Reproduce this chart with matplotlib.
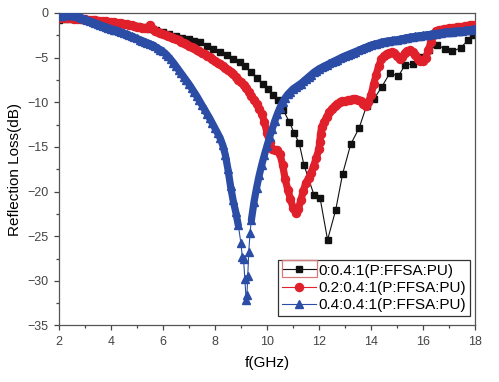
import matplotlib
matplotlib.use("Agg")
import matplotlib.pyplot as plt
import numpy as np
from matplotlib.patches import Rectangle
from matplotlib.ticker import MultipleLocator

plt.rcParams['font.family'] = ['Liberation Sans', 'DejaVu Sans']

# 0:0.4:1 (squares)
black_f = [2.0, 2.25, 2.5, 2.75, 3.0, 3.25, 3.5, 3.75, 4.0, 4.25, 4.5, 4.75, 5.0, 5.25,
           5.5, 5.75, 6.0, 6.25, 6.5, 6.75, 7.0, 7.2, 7.42, 7.68, 7.93, 8.19, 8.45, 8.7,
           8.96, 9.17, 9.38, 9.6, 9.83, 10.05, 10.24, 10.44, 10.63, 10.86, 11.04, 11.24,
           11.42, 11.81, 12.04, 12.33, 12.64, 12.91, 13.22, 13.54, 13.83, 14.12, 14.41,
           14.73, 15.05, 15.31, 15.63, 15.93, 16.23, 16.53, 16.85, 17.13, 17.45, 17.74, 17.93]
black_rl = [-0.75, -0.72, -0.7, -0.72, -0.75, -0.8, -0.86, -0.93, -1.0, -1.1, -1.2, -1.32,
            -1.45, -1.6, -1.75, -1.95, -2.15, -2.35, -2.55, -2.75, -2.95, -3.1, -3.3, -3.65,
            -4.0, -4.35, -4.7, -5.1, -5.5, -5.9, -6.6, -7.3, -7.9, -8.55, -9.2, -9.75,
            -10.9, -12.2, -13.4, -14.6, -17.0, -20.4, -20.7, -25.4, -22.1, -18.0, -14.7,
            -12.9, -10.4, -9.6, -8.3, -6.7, -7.1, -5.8, -5.7, -4.9, -4.2, -3.6, -4.0,
            -4.3, -3.9, -3.0, -2.5]

# 0.2:0.4:1 (circles)
red_f = [2.0, 2.1, 2.2, 2.3, 2.4, 2.5, 2.6, 2.7, 2.8, 2.9, 3.0, 3.1, 3.2, 3.3, 3.4, 3.5,
         3.6, 3.7, 3.8, 3.9, 4.0, 4.1, 4.2, 4.3, 4.4, 4.5, 4.6, 4.7, 4.8, 4.9, 5.0, 5.1,
         5.2, 5.3, 5.4, 5.5, 5.6, 5.7, 5.8, 5.9, 6.0, 6.1, 6.2, 6.3, 6.4, 6.5, 6.6, 6.7,
         6.8, 6.9, 7.0, 7.1, 7.2, 7.3, 7.4, 7.5, 7.6, 7.7, 7.8, 7.9, 8.0, 8.1, 8.2, 8.3,
         8.4, 8.5, 8.6, 8.7, 8.8, 8.9, 9.0, 9.1, 9.2, 9.3, 9.4, 9.5, 9.6, 9.7, 9.8, 9.9,
         10.0, 10.1, 10.2, 10.3, 10.4, 10.5, 10.6, 10.7, 10.8, 10.9, 11.0, 11.1, 11.2,
         11.3, 11.4, 11.5, 11.6, 11.7, 11.8, 11.9, 12.0, 12.03, 12.06, 12.1, 12.2, 12.3,
         12.4, 12.5, 12.6, 12.7, 12.8, 12.9, 13.0, 13.1, 13.2, 13.3, 13.4, 13.5, 13.6,
         13.7, 13.8, 13.9, 14.0, 14.1, 14.2, 14.3, 14.4, 14.5, 14.6, 14.7, 14.8, 14.9,
         15.0, 15.1, 15.2, 15.3, 15.4, 15.5, 15.6, 15.7, 15.8, 15.9, 16.0, 16.1, 16.2,
         16.3, 16.4, 16.5, 16.6, 16.7, 16.8, 16.9, 17.0, 17.1, 17.2, 17.3, 17.4, 17.5,
         17.6, 17.7, 17.8, 17.9, 18.0]
red_rl = [-0.50, -0.52, -0.54, -0.56, -0.58, -0.60, -0.62, -0.64, -0.66, -0.68, -0.70,
          -0.73, -0.76, -0.79, -0.82, -0.85, -0.88, -0.91, -0.94, -0.97, -1.00, -1.04,
          -1.08, -1.12, -1.16, -1.22, -1.28, -1.34, -1.40, -1.46, -1.52, -1.58, -1.64,
          -1.72, -1.70, -1.30, -1.80, -1.98, -2.10, -2.22, -2.34, -2.46, -2.58, -2.70,
          -2.82, -2.95, -3.08, -3.21, -3.35, -3.50, -3.65, -3.80, -3.95, -4.10, -4.28,
          -4.45, -4.62, -4.80, -4.98, -5.16, -5.35, -5.55, -5.75, -5.95, -6.15, -6.38,
          -6.62, -6.88, -7.15, -7.45, -7.75, -8.10, -8.45, -8.85, -9.25, -9.70, -10.20,
          -10.70, -11.30, -12.20, -13.40, -14.50, -15.20, -15.40, -15.40, -15.80, -17.00,
          -18.60, -19.80, -20.80, -21.80, -22.40, -22.00, -21.00, -19.90, -19.00, -18.50,
          -17.90, -17.10, -16.20, -15.20, -14.40, -13.60, -12.80, -12.20, -11.60, -11.10,
          -10.70, -10.40, -10.15, -10.00, -9.90, -9.85, -9.80, -9.70, -9.65, -9.60, -9.70,
          -9.90, -10.20, -10.40, -10.00, -9.20, -8.00, -6.90, -5.90, -5.20, -4.80, -4.55,
          -4.45, -4.40, -4.50, -4.80, -5.10, -4.95, -4.50, -4.25, -4.20, -4.35, -4.70,
          -5.10, -5.40, -5.40, -5.00, -4.20, -3.30, -2.50, -2.05, -1.90, -1.85, -1.80,
          -1.76, -1.72, -1.68, -1.64, -1.60, -1.56, -1.52, -1.48, -1.44, -1.40, -1.36,
          -1.32]

# 0.4:0.4:1 (triangles)
blue_f = [2.0, 2.1, 2.2, 2.3, 2.4, 2.5, 2.6, 2.7, 2.8, 2.9, 3.0, 3.1, 3.2, 3.3, 3.4, 3.5,
          3.6, 3.7, 3.8, 3.9, 4.0, 4.1, 4.2, 4.3, 4.4, 4.5, 4.6, 4.7, 4.8, 4.9, 5.0, 5.1,
          5.2, 5.3, 5.4, 5.5, 5.6, 5.7, 5.8, 5.9, 6.0, 6.1, 6.2, 6.3, 6.4, 6.5, 6.6, 6.7,
          6.8, 6.9, 7.0, 7.1, 7.2, 7.3, 7.4, 7.5, 7.6, 7.7, 7.8, 7.9, 8.0, 8.1, 8.2, 8.3,
          8.4, 8.5, 8.6, 8.7, 8.8, 8.9, 9.0, 9.05, 9.1, 9.15, 9.2, 9.23, 9.26, 9.3, 9.35,
          9.4, 9.5, 9.6, 9.7, 9.8, 9.9, 10.0, 10.1, 10.2, 10.3, 10.4, 10.5, 10.6, 10.7,
          10.8, 10.9, 11.0, 11.1, 11.2, 11.3, 11.4, 11.5, 11.6, 11.7, 11.8, 11.9, 12.0,
          12.1, 12.2, 12.3, 12.4, 12.5, 12.6, 12.7, 12.8, 12.9, 13.0, 13.1, 13.2, 13.3,
          13.4, 13.5, 13.6, 13.7, 13.8, 13.9, 14.0, 14.1, 14.2, 14.3, 14.4, 14.5, 14.6,
          14.7, 14.8, 14.9, 15.0, 15.1, 15.2, 15.3, 15.4, 15.5, 15.6, 15.7, 15.8, 15.9,
          16.0, 16.1, 16.2, 16.3, 16.4, 16.5, 16.6, 16.7, 16.8, 16.9, 17.0, 17.1, 17.2,
          17.3, 17.4, 17.5, 17.6, 17.7, 17.8, 17.9, 18.0]
blue_rl = [-0.35, -0.30, -0.25, -0.22, -0.20, -0.22, -0.28, -0.36, -0.46, -0.58, -0.70,
           -0.81, -0.92, -1.03, -1.14, -1.25, -1.35, -1.45, -1.55, -1.65, -1.75, -1.85,
           -1.95, -2.05, -2.15, -2.25, -2.37, -2.49, -2.61, -2.73, -2.85, -2.97, -3.09,
           -3.21, -3.33, -3.45, -3.60, -3.75, -3.92, -4.10, -4.30, -4.55, -4.85, -5.20,
           -5.55, -5.95, -6.35, -6.75, -7.15, -7.55, -7.95, -8.40, -8.85, -9.30, -9.80,
           -10.30, -10.80, -11.30, -11.80, -12.35, -12.90, -13.45, -14.00, -14.80, -15.90,
           -17.50, -19.40, -21.00, -22.30, -23.80, -25.80, -27.30, -27.60, -29.80, -32.20,
           -31.60, -29.50, -26.80, -24.60, -23.20, -21.20, -19.60, -18.20, -17.00, -15.90,
           -14.90, -13.90, -13.00, -12.10, -11.30, -10.60, -10.00, -9.50, -9.10, -8.80,
           -8.50, -8.30, -8.10, -7.90, -7.65, -7.40, -7.15, -6.90, -6.65, -6.45, -6.25,
           -6.10, -5.95, -5.80, -5.65, -5.50, -5.36, -5.22, -5.08, -4.94, -4.80, -4.68,
           -4.56, -4.44, -4.32, -4.20, -4.08, -3.96, -3.84, -3.72, -3.60, -3.52, -3.44,
           -3.36, -3.28, -3.20, -3.16, -3.12, -3.08, -3.04, -3.00, -2.94, -2.88, -2.82,
           -2.76, -2.70, -2.66, -2.62, -2.58, -2.54, -2.50, -2.46, -2.42, -2.38, -2.34,
           -2.30, -2.26, -2.22, -2.18, -2.14, -2.10, -2.08, -2.06, -2.04, -2.02, -2.00,
           -1.96, -1.92, -1.88, -1.84, -1.80]

labels = ['0:0.4:1(P:FFSA:PU)', '0.2:0.4:1(P:FFSA:PU)', '0.4:0.4:1(P:FFSA:PU)']
c_black, c_red, c_blue = '#111111', '#e0202b', '#2c4da6'

fig = plt.figure(figsize=(4.99, 3.82), dpi=100)
ax = fig.add_axes([0.118, 0.148, 0.834, 0.818])

ax.plot(black_f, black_rl, color=c_black, marker='s', ms=4.3, lw=0.8, label=labels[0], zorder=2)
# dense measured points form a thick band: underlay + markers
ax.plot(red_f, red_rl, color=c_red, lw=5.2, solid_capstyle='round', zorder=3)
ax.plot(red_f, red_rl, color=c_red, marker='o', ms=5.8, lw=0.8, label=labels[1], zorder=3)
# no band at the very bottom of the blue dip: single points there
blue_band = np.where(np.array(blue_rl) > -24.5, blue_rl, np.nan)
ax.plot(blue_f, blue_band, color=c_blue, lw=5.2, solid_capstyle='round', zorder=4)
ax.plot(blue_f, blue_rl, color=c_blue, marker='^', ms=6.0, lw=0.8, label=labels[2], zorder=4)

ax.set_xlim(2, 18)
ax.set_ylim(-35, 0)
ax.xaxis.set_major_locator(MultipleLocator(2))
ax.xaxis.set_minor_locator(MultipleLocator(1))
ax.yaxis.set_major_locator(MultipleLocator(5))
ax.yaxis.set_minor_locator(MultipleLocator(2.5))
ax.tick_params(which='both', direction='out', top=False, right=False, colors='#444444',
               labelsize=9)
ax.tick_params(which='major', length=3.5, width=0.9, pad=4)
ax.tick_params(which='minor', length=2.2, width=0.9)
for s in ax.spines.values():
    s.set_color('#555555')
    s.set_linewidth(0.9)

ax.set_xlabel('f(GHz)', fontsize=11, labelpad=6)
ax.set_ylabel('Reflection Loss(dB)', fontsize=11, labelpad=4)

handles, _ = ax.get_legend_handles_labels()
leg = ax.legend(handles, labels, loc='lower right', bbox_to_anchor=(0.988, 0.031),
                borderaxespad=0, fancybox=False, edgecolor='#333333', fontsize=11,
                handlelength=2.2, handletextpad=0.2, labelspacing=0.2, borderpad=0.25,
                framealpha=1)
leg.get_frame().set_linewidth(0.9)

ax.add_patch(Rectangle((0.536, 0.1545), 0.084, 0.0553, transform=ax.transAxes,
                       fill=False, edgecolor='#d97a7a', lw=0.9, zorder=10, clip_on=False))

fig.savefig('out.png', dpi=100)
